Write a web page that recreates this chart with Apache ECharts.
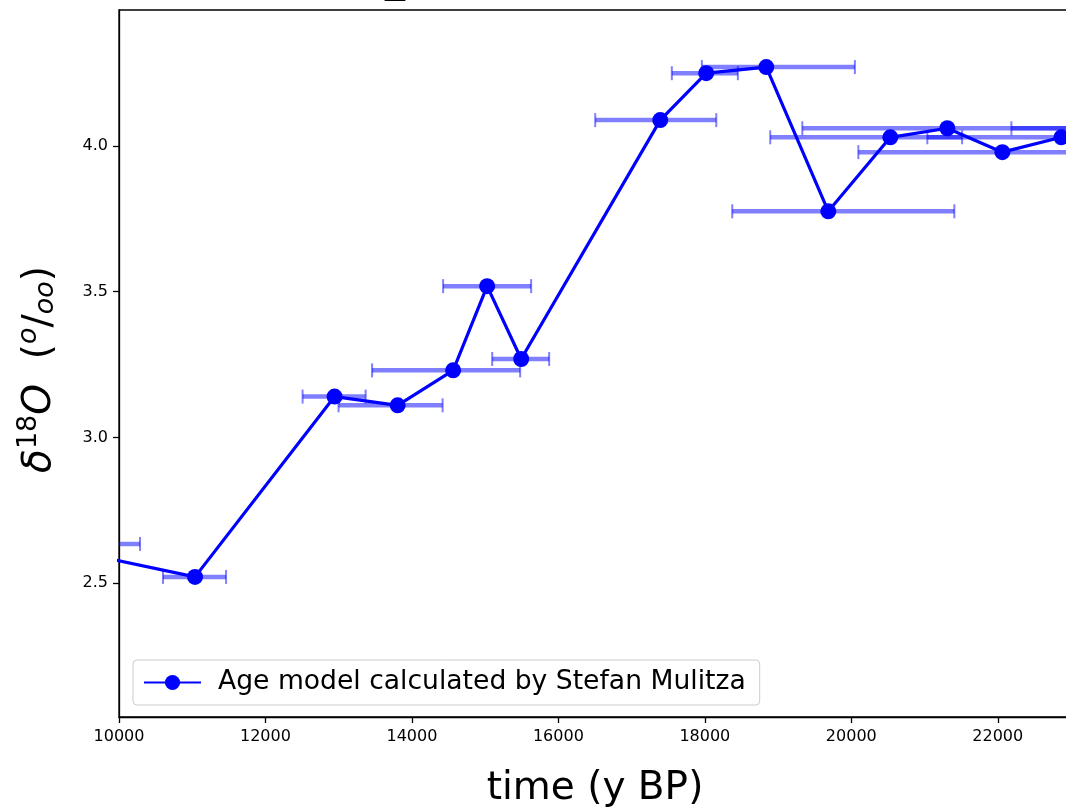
<!DOCTYPE html>
<html>
<head>
<meta charset="utf-8">
<script src="https://cdn.jsdelivr.net/npm/echarts@6/dist/echarts.min.js"></script>
<style>
html,body{margin:0;padding:0;background:#fff;}
#chart{width:1066px;height:808px;}
</style>
</head>
<body>
<div id="chart"></div>
<script>
// Age (y BP) of each sample, and its delta-18O value (per mil)
const ages = [8925, 11038, 12944, 13805, 14563, 15027, 15492, 17391, 18019, 18839, 19686, 20533, 21311, 22063, 22869, 23600];
const d18O = [2.634, 2.521, 3.140, 3.110, 3.230, 3.519, 3.269, 4.089, 4.250, 4.271, 3.776, 4.030, 4.061, 3.979, 4.030, 4.061];
// age uncertainty range (lower and upper age) of each sample
const ageLow  = [7560, 10601, 12507, 12998, 13456, 14426, 15096, 16503, 17549, 17959, 18374, 18893, 19331, 20096, 21038, 22186];
const ageHigh = [10287, 11462, 13368, 14419, 15478, 15628, 15874, 18156, 18451, 20049, 21407, 21513, 23292, 24030, 24700, 25000];
// tick values
const xTicks = [10000, 12000, 14000, 16000, 18000, 20000, 22000];
const yTicks = [2.5, 3.0, 3.5, 4.0];
const seriesName = 'Age model calculated by Stefan Mulitza';

const lineData = ages.map((a, i) => [a, d18O[i]]);
const errData = ages.map((a, i) => [ageLow[i], ageHigh[i], d18O[i]]);

const FONT = 'DejaVu Sans';
const chart = echarts.init(document.getElementById('chart'), null, {renderer: 'canvas'});

chart.setOption({
  animation: false,
  backgroundColor: '#ffffff',
  graphic: [{
    type: 'text',
    x: 385,
    y: -39,
    silent: true,
    style: {text: '_', fontSize: 40, fontFamily: FONT, fill: '#000'}
  }],
  grid: {
    left: 119, top: 10, right: -5, bottom: 91,
    outerBoundsMode: 'none',
    show: true, borderColor: '#000', borderWidth: 1.3, backgroundColor: 'transparent',
    containLabel: false
  },
  legend: {
    data: [seriesName],
    left: 133, top: 660,
    backgroundColor: 'rgba(255,255,255,0.8)',
    borderColor: '#cccccc', borderWidth: 1, borderRadius: 4,
    padding: [9, 14, 9, 10],
    itemWidth: 57, itemHeight: 19,
    textStyle: {fontSize: 26.6, lineHeight: 27, fontFamily: FONT, color: '#000', padding: [0, 0, 0, 12]}
  },
  xAxis: {
    type: 'value',
    min: 10000, max: 23000,
    splitLine: {show: false},
    axisLine: {show: true, lineStyle: {color: '#000', width: 1.3}},
    axisTick: {show: true, length: 6, customValues: xTicks, lineStyle: {color: '#000', width: 1.3}},
    axisLabel: {customValues: xTicks, fontSize: 16, fontFamily: FONT, color: '#000', margin: 12,
      formatter: v => String(v)},
    name: 'time (y BP)',
    nameLocation: 'middle',
    nameGap: 52,
    nameTextStyle: {fontSize: 39, fontFamily: FONT, color: '#000'}
  },
  yAxis: {
    type: 'value',
    min: 2.04, max: 4.467,
    splitLine: {show: false},
    axisLine: {show: true, lineStyle: {color: '#000', width: 1.3}},
    axisTick: {show: true, length: 6, customValues: yTicks, lineStyle: {color: '#000', width: 1.3}},
    axisLabel: {customValues: yTicks, fontSize: 16, fontFamily: FONT, color: '#000', margin: 11,
      formatter: v => v.toFixed(1)},
    name: '{d|δ}{s|18}{d|O}  {n|(}{so|o}{n|/}{b|oo}{e|)}',
    nameLocation: 'middle',
    nameRotate: 90,
    nameGap: 60,
    nameTextStyle: {
      fontFamily: FONT, color: '#000', fontSize: 39,
      rich: {
        d: {fontSize: 39, fontStyle: 'italic', fontFamily: FONT, color: '#000', lineHeight: 44, verticalAlign: 'bottom'},
        s: {fontSize: 27, fontFamily: FONT, color: '#000', verticalAlign: 'top', lineHeight: 44},
        n: {fontSize: 39, fontFamily: FONT, color: '#000', lineHeight: 44, verticalAlign: 'bottom'},
        e: {fontSize: 39, fontFamily: FONT, color: '#000', lineHeight: 44, verticalAlign: 'bottom', padding: [0, 12, 0, 0]},
        so: {fontSize: 27, fontStyle: 'italic', fontFamily: FONT, color: '#000', verticalAlign: 'top', lineHeight: 44},
        b: {fontSize: 27, fontStyle: 'italic', fontFamily: FONT, color: '#000', verticalAlign: 'bottom', lineHeight: 44}
      }
    }
  },
  series: [
    {
      type: 'custom',
      name: 'errors',
      clip: true,
      z: 1,
      data: errData,
      encode: {x: [0, 1], y: 2},
      renderItem: function (params, api) {
        const y = api.value(2);
        const p0 = api.coord([api.value(0), y]);
        const p1 = api.coord([api.value(1), y]);
        const cap = 7;
        const stroke = 'rgba(0,0,255,0.5)';
        return {
          type: 'group',
          children: [
            {type: 'line', shape: {x1: p0[0], y1: p0[1], x2: p1[0], y2: p1[1]}, style: {stroke: stroke, lineWidth: 4.5}},
            {type: 'line', shape: {x1: p0[0], y1: p0[1] - cap, x2: p0[0], y2: p0[1] + cap}, style: {stroke: stroke, lineWidth: 2}},
            {type: 'line', shape: {x1: p1[0], y1: p1[1] - cap, x2: p1[0], y2: p1[1] + cap}, style: {stroke: stroke, lineWidth: 2}}
          ]
        };
      }
    },
    {
      type: 'line',
      name: seriesName,
      z: 3,
      clip: true,
      data: lineData,
      symbol: 'circle',
      symbolSize: 16,
      showAllSymbol: true,
      itemStyle: {color: '#0000ff'},
      lineStyle: {color: '#0000ff', width: 3.2}
    }
  ]
});
</script>
</body>
</html>
